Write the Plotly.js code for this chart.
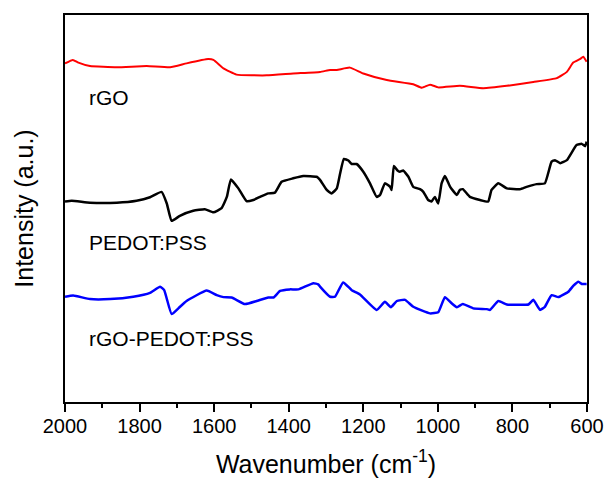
<!DOCTYPE html>
<html>
<head>
<meta charset="utf-8">
<script src="https://cdn.plot.ly/plotly-3.0.1.min.js"></script>
<style>
  html, body { margin: 0; padding: 0; background: #fff; }
  #chart { width: 606px; height: 482px; }
</style>
</head>
<body>
<div id="chart"></div>
<script>
// FTIR spectra, offset vertically (arbitrary units)
const rgoWavenumber = [2000, 1979, 1964, 1933, 1861, 1781, 1718, 1674, 1616, 1602, 1575, 1540, 1459, 1388, 1316, 1289, 1271, 1236, 1200, 1137, 1066, 1043, 1021, 999, 941, 878, 815, 744, 681, 654, 637, 619, 610, 601];
const rgoIntensity = [87.5, 88.4, 87.7, 86.8, 86.5, 86.8, 86.5, 87.5, 88.6, 88.4, 86.2, 84.6, 84.4, 84.9, 85.3, 85.8, 85.8, 86.4, 84.9, 83.2, 82.1, 81.2, 82.0, 81.3, 81.7, 81.1, 81.7, 82.7, 83.7, 85.3, 87.7, 88.6, 89.2, 87.9];

const pedotWavenumber = [2000, 1982, 1933, 1861, 1808, 1772, 1741, 1727, 1714, 1692, 1656, 1625, 1602, 1580, 1566, 1555, 1535, 1513, 1495, 1477, 1455, 1437, 1419, 1388, 1361, 1325, 1316, 1298, 1285, 1271, 1262, 1252, 1240, 1231, 1218, 1200, 1182, 1164, 1155, 1142, 1128, 1124, 1118, 1109, 1102, 1093, 1079, 1066, 1048, 1039, 1026, 1017, 1008, 999, 990, 981, 967, 949, 941, 933, 914, 887, 865, 856, 838, 815, 780, 762, 735, 713, 695, 686, 672, 654, 628, 614, 605, 601];
const pedotIntensity = [51.8, 52.0, 51.5, 51.5, 52.0, 52.9, 54.3, 51.3, 46.8, 48.1, 49.4, 49.8, 49.0, 50.1, 53.0, 57.5, 55.2, 51.9, 52.2, 53.0, 53.9, 54.1, 56.9, 57.8, 58.4, 58.2, 57.4, 54.8, 53.9, 55.2, 59.1, 62.8, 62.4, 61.5, 61.5, 59.5, 56.5, 53.0, 53.5, 56.5, 55.6, 54.8, 61.0, 59.9, 59.5, 59.8, 58.2, 55.6, 55.0, 54.3, 52.2, 51.8, 53.0, 51.3, 56.5, 58.4, 55.6, 53.5, 54.8, 55.0, 53.0, 52.2, 51.8, 54.8, 56.5, 55.2, 55.0, 55.6, 56.3, 56.5, 62.1, 62.5, 61.7, 62.5, 66.4, 66.7, 66.1, 67.3];

const compositeWavenumber = [2000, 1978, 1933, 1879, 1817, 1772, 1745, 1734, 1714, 1696, 1674, 1620, 1593, 1575, 1553, 1517, 1486, 1455, 1441, 1423, 1397, 1374, 1334, 1321, 1316, 1289, 1276, 1254, 1231, 1209, 1164, 1142, 1126, 1110, 1088, 1066, 1021, 999, 981, 963, 949, 933, 905, 869, 860, 838, 815, 780, 757, 744, 726, 713, 695, 677, 650, 637, 623, 614, 601];
const compositeIntensity = [27.2, 27.5, 26.6, 26.6, 27.2, 28.2, 29.8, 28.9, 22.7, 24.2, 26.1, 28.8, 27.6, 27.1, 27.0, 25.3, 26.1, 27.0, 27.0, 28.7, 29.1, 29.1, 30.7, 30.4, 29.8, 27.2, 27.2, 30.9, 28.9, 27.8, 23.8, 25.9, 24.5, 26.1, 26.4, 24.6, 22.9, 23.2, 27.1, 25.5, 24.5, 25.3, 24.2, 24.0, 23.8, 26.1, 25.2, 25.1, 25.2, 26.4, 23.8, 24.6, 27.6, 27.1, 28.5, 30.0, 31.1, 30.5, 30.5];

const seriesNames = ['rGO', 'PEDOT:PSS', 'rGO-PEDOT:PSS'];
const seriesColors = ['#ff0000', '#000000', '#0000ff'];
const labelPositions = [78.6, 41.1, 16.3];

const FONT = 'Liberation Sans, Arial, sans-serif';

const traces = [
  { x: rgoWavenumber, y: rgoIntensity, width: 2 },
  { x: pedotWavenumber, y: pedotIntensity, width: 2.5 },
  { x: compositeWavenumber, y: compositeIntensity, width: 2.5 }
].map((s, i) => ({
  type: 'scatter',
  mode: 'lines',
  x: s.x,
  y: s.y,
  name: seriesNames[i],
  line: { color: seriesColors[i], width: s.width, shape: 'spline', smoothing: 0.4 },
  hoverinfo: 'x+name'
}));

const annotations = seriesNames.map((name, i) => ({
  text: name,
  x: 1941,
  y: labelPositions[i],
  xref: 'x',
  yref: 'y',
  xanchor: 'left',
  yanchor: 'middle',
  showarrow: false,
  font: { family: FONT, size: 21, color: '#000' }
}));

const layout = {
  width: 606,
  height: 482,
  margin: { l: 65, r: 19, t: 15, b: 80 },
  paper_bgcolor: '#fff',
  plot_bgcolor: '#fff',
  showlegend: false,
  font: { family: FONT, color: '#000' },
  xaxis: {
    range: [2000, 600],
    tickmode: 'linear',
    tick0: 600,
    dtick: 200,
    ticks: 'outside',
    ticklen: 8,
    tickwidth: 2,
    tickcolor: '#000',
    ticklabelstandoff: -3,
    minor: { ticks: 'outside', ticklen: 4, tickwidth: 2, dtick: 100, tickcolor: '#000' },
    showline: true,
    linewidth: 2,
    linecolor: '#000',
    mirror: true,
    showgrid: false,
    zeroline: false,
    tickfont: { family: FONT, size: 20, color: '#000' },
    title: { text: 'Wavenumber (cm<sup>-1</sup>)', font: { family: FONT, size: 25, color: '#000' }, standoff: 19 }
  },
  yaxis: {
    range: [0, 100],
    showticklabels: false,
    ticks: '',
    showline: true,
    linewidth: 2,
    linecolor: '#000',
    mirror: true,
    showgrid: false,
    zeroline: false,
    title: { text: 'Intensity (a.u.)', font: { family: FONT, size: 25, color: '#000' }, standoff: 22 }
  },
  annotations: annotations
};

Plotly.newPlot('chart', traces, layout, { displayModeBar: false, staticPlot: true });
</script>
</body>
</html>
